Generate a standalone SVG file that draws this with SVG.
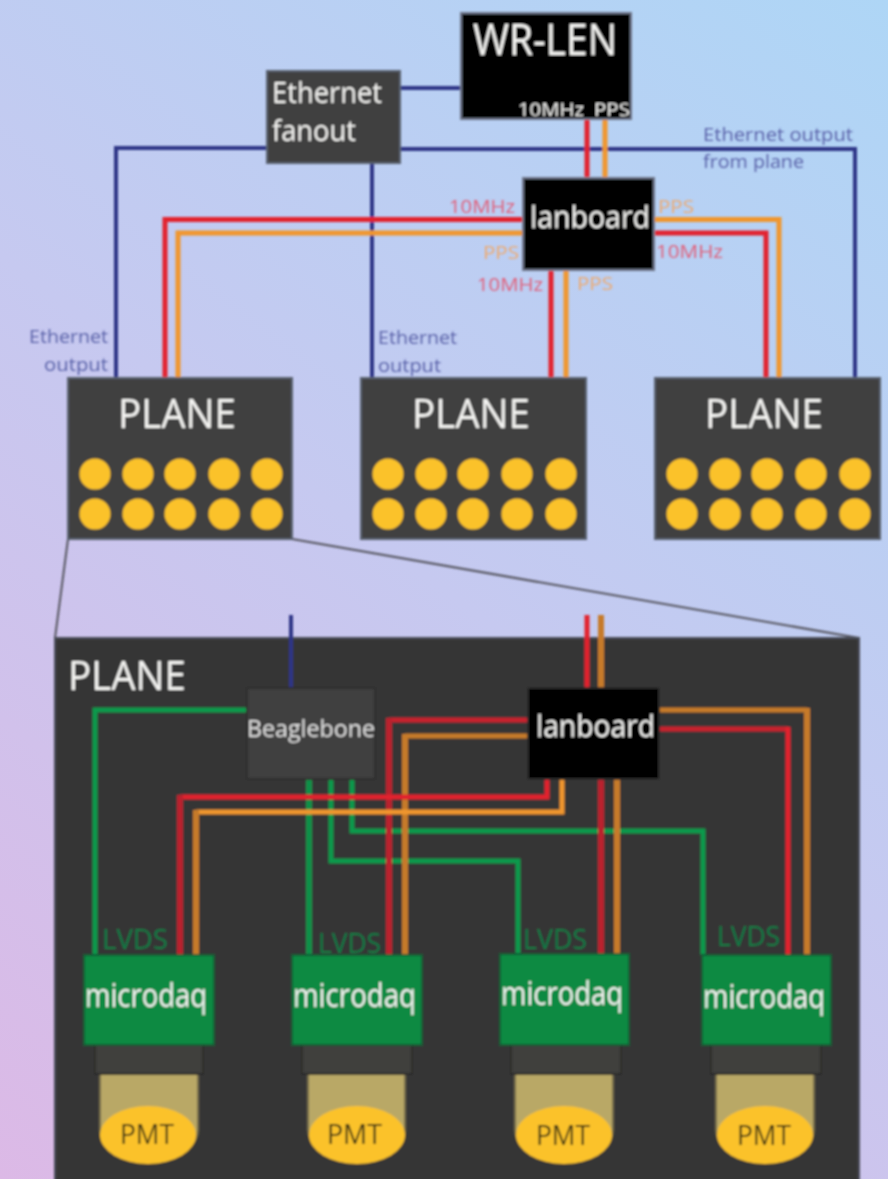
<svg xmlns="http://www.w3.org/2000/svg" width="888" height="1179" viewBox="0 0 888 1179">
<defs>
<linearGradient id="bg" gradientUnits="userSpaceOnUse" x1="0" y1="1179" x2="888" y2="0">
<stop offset="0" stop-color="#dcb9e6"/><stop offset="0.5" stop-color="#c6c9f0"/><stop offset="1" stop-color="#aed6f6"/>
</linearGradient>
<filter id="soft" filterUnits="userSpaceOnUse" x="0" y="0" width="888" height="1179"><feGaussianBlur stdDeviation="1.1"/></filter>
<g id="dot"><circle r="15.500" fill="#fbc22a"/></g>
</defs>
<style>
text{font-family:"Open Sans","Liberation Sans",sans-serif;font-weight:500}
.w{fill:#f4f4f2}
.g{fill:#e0e0e0}
.dk{fill:#403f3f;stroke:#59606e;stroke-width:2}
.bk{fill:#050505;stroke:#6d7488;stroke-width:2}
.l{fill:none}
.bl{stroke:#2f3586;stroke-width:4}
.re{stroke:#e2202f;stroke-width:5}
.or{stroke:#f0962e;stroke-width:5}
.ire{stroke:#b9202e;stroke-width:6}
.ior{stroke:#c67a2a;stroke-width:6}
.hre{stroke:#c8202e;stroke-width:5}
.hor{stroke:#c67a2a;stroke-width:5}
.gr{stroke:#0a9a4c;stroke-width:5}
.tr{fill:#e0607a}.to{fill:#eeaa70}.tb{fill:#5a62a8}.tg{fill:#0c7a45}
.md{fill:#0c8a42;stroke:#0f5a34;stroke-width:2}
.cn{fill:#403f3d;stroke:#2c2c2c;stroke-width:2}
.tu{fill:#b9a866;stroke:#6f6849;stroke-width:2}
.pm{fill:#fbc22a}
.pt{fill:#3e3518}
</style>
<rect width="888" height="1179" fill="url(#bg)"/>
<g filter="url(#soft)">
<g id="connectors">
<path class="l bl" d="M400 88H460M400 149H855V378M372 163V378M266 148H116V378"/>
<path class="l re" d="M587 119V178M522 219.500H165V378M654 233H766V378M551 270V378"/>
<path class="l or" d="M605 119V178M522 233H178V378M654 219.500H779V378M566 270V378"/>
<path class="l" stroke="#55555e" stroke-width="2" d="M68 539L55 638M292 539L859 638"/>
</g>
<g id="wr-len"><rect class="bk" x="461" y="13" width="170" height="106"/>
<text class="w" x="473" y="55" font-size="43" textLength="144" lengthAdjust="spacingAndGlyphs">WR-LEN</text>
<text class="w" x="518" y="116" font-size="19" textLength="66" lengthAdjust="spacingAndGlyphs">10MHz</text>
<text class="w" x="594" y="116" font-size="19" textLength="36" lengthAdjust="spacingAndGlyphs">PPS</text></g>
<g id="ethernet-fanout"><rect class="dk" x="267" y="71" width="133" height="92"/>
<text class="w" x="272" y="103" font-size="30" textLength="110" lengthAdjust="spacingAndGlyphs">Ethernet</text>
<text class="w" x="272" y="141" font-size="30" textLength="84" lengthAdjust="spacingAndGlyphs">fanout</text></g>
<g id="lanboard-top"><rect class="bk" x="523" y="178" width="131" height="92"/>
<text class="w" x="530" y="228" font-size="31" textLength="120" lengthAdjust="spacingAndGlyphs">lanboard</text></g>
<g id="labels">
<text class="tr" x="449" y="213" font-size="19" textLength="66" lengthAdjust="spacingAndGlyphs">10MHz</text>
<text class="to" x="658" y="213" font-size="19" textLength="36" lengthAdjust="spacingAndGlyphs">PPS</text>
<text class="to" x="483" y="259" font-size="19" textLength="36" lengthAdjust="spacingAndGlyphs">PPS</text>
<text class="tr" x="656" y="258" font-size="19" textLength="67" lengthAdjust="spacingAndGlyphs">10MHz</text>
<text class="tr" x="477" y="291" font-size="19" textLength="66" lengthAdjust="spacingAndGlyphs">10MHz</text>
<text class="to" x="577" y="290" font-size="19" textLength="36" lengthAdjust="spacingAndGlyphs">PPS</text>
<text class="tb" x="703" y="141" font-size="19" textLength="150" lengthAdjust="spacingAndGlyphs">Ethernet output</text>
<text class="tb" x="703" y="168" font-size="19" textLength="101" lengthAdjust="spacingAndGlyphs">from plane</text>
<text class="tb" x="29" y="343" font-size="19" textLength="79" lengthAdjust="spacingAndGlyphs">Ethernet</text>
<text class="tb" x="44" y="371" font-size="19" textLength="64" lengthAdjust="spacingAndGlyphs">output</text>
<text class="tb" x="378" y="344" font-size="19" textLength="79" lengthAdjust="spacingAndGlyphs">Ethernet</text>
<text class="tb" x="378" y="372" font-size="19" textLength="63" lengthAdjust="spacingAndGlyphs">output</text>
</g>
<g id="plane-1"><rect class="dk" x="68" y="378" width="224" height="161"/>
<text class="w" x="118" y="428" font-size="40" textLength="118" lengthAdjust="spacingAndGlyphs">PLANE</text>
<use href="#dot" x="95" y="474"/><use href="#dot" x="138" y="474"/><use href="#dot" x="180" y="474"/><use href="#dot" x="224" y="474"/><use href="#dot" x="267" y="474"/>
<use href="#dot" x="95" y="514"/><use href="#dot" x="138" y="514"/><use href="#dot" x="180" y="514"/><use href="#dot" x="224" y="514"/><use href="#dot" x="267" y="514"/></g>
<g id="plane-2"><rect class="dk" x="361" y="378" width="225" height="161"/>
<text class="w" x="412" y="428" font-size="40" textLength="118" lengthAdjust="spacingAndGlyphs">PLANE</text>
<use href="#dot" x="388" y="474"/><use href="#dot" x="431" y="474"/><use href="#dot" x="473" y="474"/><use href="#dot" x="517" y="474"/><use href="#dot" x="561" y="474"/>
<use href="#dot" x="388" y="514"/><use href="#dot" x="431" y="514"/><use href="#dot" x="473" y="514"/><use href="#dot" x="517" y="514"/><use href="#dot" x="561" y="514"/></g>
<g id="plane-3"><rect class="dk" x="655" y="378" width="225" height="161"/>
<text class="w" x="705" y="428" font-size="40" textLength="118" lengthAdjust="spacingAndGlyphs">PLANE</text>
<use href="#dot" x="682" y="474"/><use href="#dot" x="725" y="474"/><use href="#dot" x="767" y="474"/><use href="#dot" x="811" y="474"/><use href="#dot" x="855" y="474"/>
<use href="#dot" x="682" y="514"/><use href="#dot" x="725" y="514"/><use href="#dot" x="767" y="514"/><use href="#dot" x="811" y="514"/><use href="#dot" x="855" y="514"/></g>
<g id="plane-detail"><rect x="55" y="638" width="804" height="545" fill="#353535" stroke="#4a4d58" stroke-width="2"/>
<text class="w" x="68" y="690" font-size="40" textLength="118" lengthAdjust="spacingAndGlyphs">PLANE</text></g>
<g id="connectors-detail">
<path class="l bl" d="M291 615V688"/>
<path class="l gr" d="M247 710H95V955M331 779V861H518V955M352 779V831H703V955"/>
<path class="l" stroke="#0a8f48" stroke-width="6" d="M309 779V955"/>
<path class="l re" d="M587 615V688"/>
<path class="l ior" d="M601 615V688"/>
<path class="l hre" d="M528 720H389M659 729H788"/>
<path class="l ire" d="M389 718V955M601 779V955"/>
<path class="l re" d="M788 727V955"/>
<path class="l hor" d="M528 736H405M659 710H807"/>
<path class="l ior" d="M405 734V955M617 779V955M807 708V955"/>
<path class="l re" d="M547 779V797H180"/>
<path class="l ire" d="M180 795V955"/>
<path class="l or" d="M562 779V812H196"/>
<path class="l ior" d="M196 810V955"/>
</g>
<g id="beaglebone"><rect x="247" y="688" width="128" height="91" fill="#403f3f" stroke="#2e2e2e" stroke-width="2"/>
<text class="g" x="247" y="737" font-size="23" textLength="128" lengthAdjust="spacingAndGlyphs">Beaglebone</text></g>
<g id="lanboard-detail"><rect x="528" y="688" width="131" height="91" fill="#050505" stroke="#2a2a2a" stroke-width="2"/>
<text class="w" x="536" y="737" font-size="31" textLength="119" lengthAdjust="spacingAndGlyphs">lanboard</text></g>
<g id="pmt-1"><path class="tu" d="M100 1074V1130Q100 1140 110 1148H188Q198 1140 198 1130V1074Z"/><ellipse class="pm" cx="148" cy="1135" rx="48" ry="29"/>
<rect class="cn" x="95" y="1045" width="108" height="29"/><rect class="md" x="84" y="955" width="130" height="90"/>
<text class="tg" x="102" y="949" font-size="27" textLength="66" lengthAdjust="spacingAndGlyphs">LVDS</text>
<text class="w" x="85" y="1007" font-size="32" textLength="122" lengthAdjust="spacingAndGlyphs">microdaq</text>
<text class="pt" x="120" y="1144" font-size="28" textLength="54" lengthAdjust="spacingAndGlyphs">PMT</text></g>
<g id="pmt-2"><path class="tu" d="M308 1074V1130Q308 1140 318 1148H395Q405 1140 405 1130V1074Z"/><ellipse class="pm" cx="357" cy="1135" rx="48" ry="29"/>
<rect class="cn" x="302" y="1045" width="110" height="29"/><rect class="md" x="292" y="955" width="130" height="90"/>
<text class="tg" x="318" y="953" font-size="27" textLength="63" lengthAdjust="spacingAndGlyphs">LVDS</text>
<text class="w" x="293" y="1007" font-size="32" textLength="123" lengthAdjust="spacingAndGlyphs">microdaq</text>
<text class="pt" x="327" y="1144" font-size="28" textLength="55" lengthAdjust="spacingAndGlyphs">PMT</text></g>
<g id="pmt-3"><path class="tu" d="M515 1074V1130Q515 1140 525 1148H603Q613 1140 613 1130V1074Z"/><ellipse class="pm" cx="564" cy="1135" rx="48" ry="29"/>
<rect class="cn" x="511" y="1045" width="110" height="29"/><rect class="md" x="500" y="954" width="129" height="91"/>
<text class="tg" x="523" y="949" font-size="27" textLength="64" lengthAdjust="spacingAndGlyphs">LVDS</text>
<text class="w" x="501" y="1005" font-size="32" textLength="122" lengthAdjust="spacingAndGlyphs">microdaq</text>
<text class="pt" x="536" y="1145" font-size="28" textLength="54" lengthAdjust="spacingAndGlyphs">PMT</text></g>
<g id="pmt-4"><path class="tu" d="M716 1074V1130Q716 1140 726 1148H804Q814 1140 814 1130V1074Z"/><ellipse class="pm" cx="765" cy="1135" rx="48" ry="29"/>
<rect class="cn" x="711" y="1045" width="110" height="29"/><rect class="md" x="702" y="955" width="129" height="90"/>
<text class="tg" x="717" y="946" font-size="27" textLength="63" lengthAdjust="spacingAndGlyphs">LVDS</text>
<text class="w" x="703" y="1008" font-size="32" textLength="122" lengthAdjust="spacingAndGlyphs">microdaq</text>
<text class="pt" x="737" y="1145" font-size="28" textLength="54" lengthAdjust="spacingAndGlyphs">PMT</text></g>
</g>
</svg>
